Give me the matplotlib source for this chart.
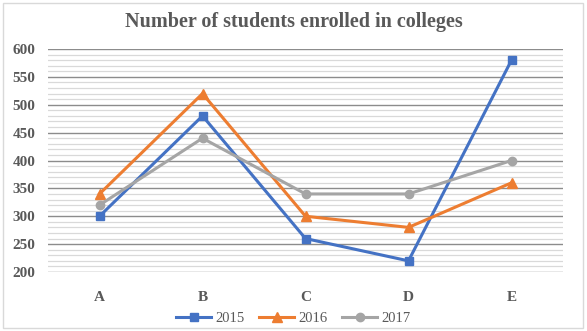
import matplotlib.pyplot as plt
from matplotlib.patches import Rectangle
from matplotlib.ticker import MultipleLocator

# data
colleges = ['A', 'B', 'C', 'D', 'E']
y2015 = [300, 480, 260, 220, 580]
y2016 = [340, 520, 300, 280, 360]
y2017 = [320, 440, 340, 340, 400]

plt.rcParams['font.family'] = ['Liberation Serif', 'DejaVu Serif']
text_gray = '#595959'

fig = plt.figure(figsize=(5.87, 3.31), dpi=100)
ax = fig.add_axes([48 / 587, 1 - 272 / 331, 515 / 587, 223 / 331])

x = range(len(colleges))
ax.plot(x, y2015, color='#4472C4', marker='s', markersize=6, linewidth=2.2, label='2015')
ax.plot(x, y2016, color='#ED7D31', marker='^', markersize=7, linewidth=2.2, label='2016')
ax.plot(x, y2017, color='#A5A5A5', marker='o', markersize=6, linewidth=2.2, label='2017')

ax.set_xlim(-0.5, 4.5)
ax.set_ylim(200, 600)
ax.set_xticks(list(x))
ax.set_xticklabels(colleges)
ax.yaxis.set_major_locator(MultipleLocator(50))
ax.yaxis.set_minor_locator(MultipleLocator(10))

# gridlines: darker majors, light minors
ax.grid(which='major', axis='y', color='#8c8c8c', linewidth=1.0)
ax.grid(which='minor', axis='y', color='#d9d9d9', linewidth=0.9)
ax.set_axisbelow(True)

for s in ax.spines.values():
    s.set_visible(False)
ax.tick_params(which='both', length=0)
ax.tick_params(axis='y', pad=9)
ax.tick_params(axis='x', pad=14)
for lab in ax.get_xticklabels() + ax.get_yticklabels():
    lab.set_fontweight('bold')
    lab.set_fontsize(11)
    lab.set_color(text_gray)

fig.text(0.5, 1 - 22 / 331, 'Number of students enrolled in colleges',
         ha='center', va='center', fontsize=14.5, fontweight='bold', color=text_gray)

leg = fig.legend(loc='center', bbox_to_anchor=(0.5, 1 - 318 / 331), ncol=3,
                 frameon=False, fontsize=10.5, handlelength=2.4, columnspacing=1.0,
                 handletextpad=0.3)
for t in leg.get_texts():
    t.set_color(text_gray)

fig.patches.append(Rectangle((3 / 587, 3 / 331), 580 / 587, 325 / 331,
                             transform=fig.transFigure, fill=False,
                             edgecolor='#d9d9d9', linewidth=1))

fig.savefig('out.png', dpi=100)
